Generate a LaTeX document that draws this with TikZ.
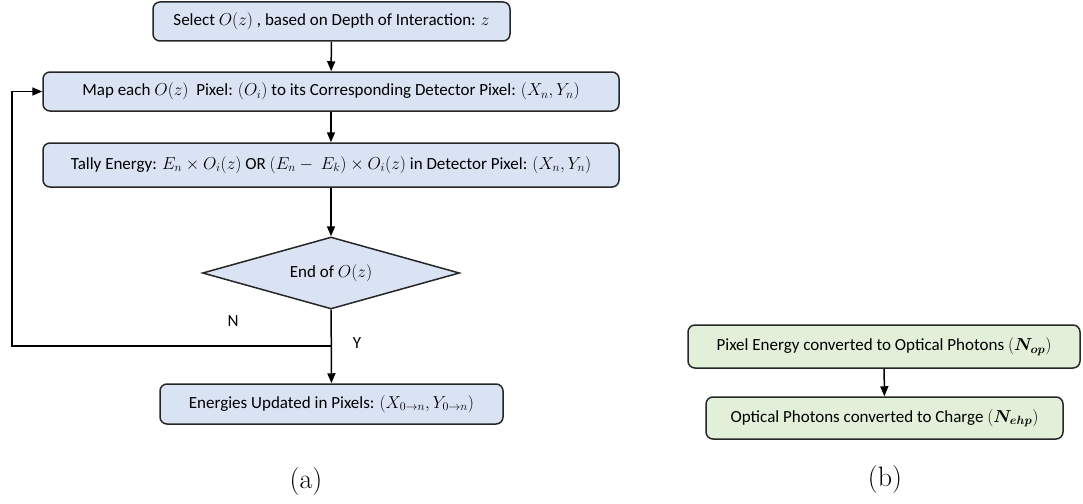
\documentclass[tikz,border=0pt]{standalone}
\usepackage{bm}
\usepackage{fontspec}
\newfontfamily\boxfont{Carlito}
\newcommand\mth[1]{{\fontsize{17.6}{20}\selectfont$#1$}}
\usetikzlibrary{shapes.geometric,arrows.meta}
\definecolor{boxblue}{HTML}{DAE3F3}
\definecolor{boxgreen}{HTML}{E2F0D9}
\definecolor{edgegray}{HTML}{262626}
\tikzset{
  procbox/.style={draw=edgegray, line width=1.5pt, rounded corners=7pt, fill=boxblue,
    inner sep=0pt, font=\boxfont\fontsize{17}{20}\selectfont},
  greenbox/.style={procbox, fill=boxgreen},
  decbox/.style={diamond, draw=edgegray, line width=1.5pt, fill=boxblue, inner sep=0pt,
    aspect=3.5, font=\boxfont\fontsize{17}{20}\selectfont},
  flow/.style={line width=1.5pt, -{Triangle[length=10pt,width=8pt]}},
  lbl/.style={font=\boxfont\fontsize{17}{20}\selectfont},
  captext/.style={font=\fontsize{28}{30}\selectfont}
}
\begin{document}
\begin{tikzpicture}[x=1pt,y=-1pt]
\useasboundingbox (0,0) rectangle (1083,503);
\node[procbox, minimum width=357pt, minimum height=39pt] (b1) at (331.5,21.5)
  {Select \mth{O(z)} , based on Depth of Interaction: \mth{z}};
\node[procbox, minimum width=576pt, minimum height=39pt] (b2) at (331,91.5)
  {Map each \mth{O(z)}\ \ Pixel: \mth{(O_i)} to its Corresponding Detector Pixel: \mth{(X_n,Y_n)}};
\node[procbox, minimum width=576pt, minimum height=44pt] (b3) at (331,165)
  {Tally Energy: \mth{E_n\times O_i(z)} OR \mth{(E_n-\ E_k)\times O_i(z)} in Detector Pixel: \mth{(X_n,Y_n)}};
\node[decbox, minimum width=257pt, minimum height=72pt] (d) at (331,273) {End of \mth{O(z)}};
\node[procbox, minimum width=343pt, minimum height=40pt] (b4) at (331.5,404)
  {Energies Updated in Pixels: \mth{(X_{0\to n},Y_{0\to n})}};
\node[greenbox, minimum width=392pt, minimum height=43pt] (g1) at (884,346.5)
  {Pixel Energy converted to Optical Photons \mth{(\bm{N_{op}})}};
\node[greenbox, minimum width=357pt, minimum height=42pt] (g2) at (884.5,418)
  {Optical Photons converted to Charge \mth{(\bm{N_{ehp}})}};
\coordinate (j) at (331,346);
\coordinate (lb) at (12,346);
\draw[flow] (b1) -- (b2);
\draw[flow] (b2) -- (b3);
\draw[flow] (b3) -- (d);
\draw[flow] (d) -- (b4);
\draw[flow] (j) -- (lb) |- (b2.west);
\draw[flow] (g1) -- (g2);
\node[lbl] (nlab) at (233,321) {N};
\node[lbl] (ylab) at (357,343) {Y};
\node[captext] (capa) at (306,482) {(a)};
\node[captext] (capb) at (885,480) {(b)};
\end{tikzpicture}
\end{document}
